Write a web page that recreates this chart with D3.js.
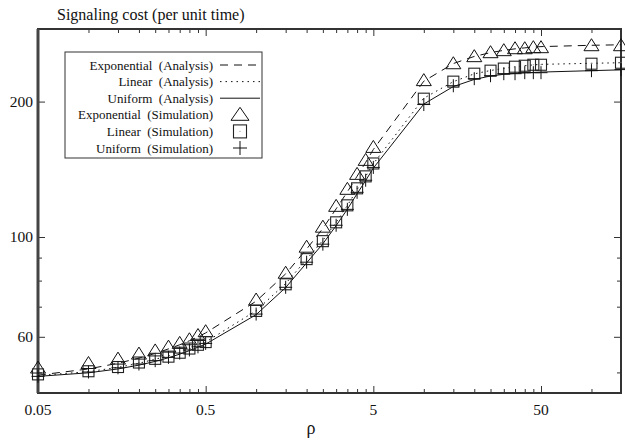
<!DOCTYPE html>
<html>
<head>
<meta charset="utf-8">
<script src="https://cdn.jsdelivr.net/npm/d3@7"></script>
<style>
  body { margin: 0; background: #fff; }
  text { font-family: "Liberation Serif", "DejaVu Serif", serif; fill: #111; white-space: pre; }
</style>
</head>
<body>
<div id="chart"></div>
<script>
// rho values (x) shared by every series
var rho = [0.05, 0.1, 0.15, 0.2, 0.25, 0.3, 0.35, 0.4, 0.45, 0.5,
  1, 1.5, 2, 2.5, 3, 3.5, 4, 4.5, 5,
  10, 15, 20, 25, 30, 35, 40, 45, 50, 100, 150];

// analysis curves
var expAnalysis = [49.3, 50.9, 52.4, 53.8, 55.1, 56.4, 57.6, 58.8, 60.0, 61.2,
  72.0, 82.8, 94.0, 104.5, 115.5, 126.0, 136.5, 146.5, 156.5,
  222.0, 243.0, 252.0, 257.0, 260.0, 262.0, 263.3, 264.3, 265.0, 266.8, 267.5];
var linAnalysis = [49.2, 50.2, 51.3, 52.4, 53.5, 54.4, 55.4, 56.4, 57.4, 58.4,
  68.6, 78.8, 89.2, 98.3, 107.8, 117.5, 127.5, 136.5, 145.5,
  203.5, 221.5, 230.5, 234.5, 237.0, 239.0, 240.3, 241.3, 242.0, 243.3, 244.0];
var uniAnalysis = [49.0, 49.9, 50.9, 51.9, 52.9, 53.9, 54.9, 55.9, 56.9, 57.8,
  67.2, 77.2, 87.6, 96.6, 106.0, 115.3, 124.8, 133.5, 142.3,
  197.5, 216.0, 224.0, 228.0, 230.0, 231.0, 231.7, 232.2, 232.6, 234.3, 235.3];

// simulation points
var expSim = [51.4, 52.6, 53.8, 55.2, 56.1, 57.2, 58.3, 59.4, 60.7, 61.9,
  72.8, 83.5, 95.4, 105.7, 117.6, 128.3, 138.5, 148.8, 159.0,
  223.8, 244.0, 253.0, 258.2, 260.9, 263.5, 263.5, 264.9, 264.9, 267.6, 267.6];
var linSim = [49.5, 50.3, 51.4, 52.6, 53.6, 54.2, 55.3, 56.5, 57.6, 58.4,
  68.5, 78.5, 89.3, 97.9, 107.8, 117.6, 128.3, 136.4, 145.7,
  203.0, 221.5, 230.7, 234.3, 236.8, 239.1, 240.3, 241.5, 241.5, 242.8, 244.0];
var uniSim = [49.0, 50.1, 51.2, 52.2, 53.1, 54.0, 55.2, 56.1, 57.0, 58.0,
  67.4, 77.3, 87.9, 96.4, 106.2, 115.2, 125.7, 133.7, 142.8,
  197.0, 216.9, 224.9, 228.3, 230.7, 230.7, 231.9, 231.9, 231.9, 234.3, 235.6];

// ticks
var xMajor = [0.05, 0.5, 5, 50];
var xMinor = [0.1, 0.15, 0.2, 0.25, 0.3, 0.35, 0.4, 0.45,
  1, 1.5, 2, 2.5, 3, 3.5, 4, 4.5, 10, 15, 20, 25, 30, 35, 40, 45, 100];
var yMajor = [60, 100, 200];
var yMinor = [50, 70, 80, 90];

var legendNames = [
  "Exponential  (Analysis)", "Linear  (Analysis)", "Uniform  (Analysis)",
  "Exponential  (Simulation)", "Linear  (Simulation)", "Uniform  (Simulation)"
];

var W = 625, H = 440;
var padL = 38, padR = 621, padT = 29, padB = 393;

var svg = d3.select("#chart").append("svg")
  .attr("width", W).attr("height", H);

var x = d3.scaleLog().domain([0.05, 150]).range([padL, padR]);
var y = d3.scaleLog().domain([45, 290]).range([padB, padT]);

// ticks via d3 axes, pointing inward, mirrored
function xAxis(g, gen, vals, len) {
  g.call(gen(x).tickValues(vals).tickSize(len).tickFormat(""));
  g.select(".domain").remove();
  g.selectAll("line").attr("stroke", "#333");
}
function yAxis(g, gen, vals, len) {
  g.call(gen(y).tickValues(vals).tickSize(len).tickFormat(""));
  g.select(".domain").remove();
  g.selectAll("line").attr("stroke", "#333");
}
xAxis(svg.append("g").attr("transform", "translate(0," + padB + ")"), d3.axisTop, xMajor, 7);
xAxis(svg.append("g").attr("transform", "translate(0," + padB + ")"), d3.axisTop, xMinor, 4);
xAxis(svg.append("g").attr("transform", "translate(0," + padT + ")"), d3.axisBottom, xMajor, 7);
xAxis(svg.append("g").attr("transform", "translate(0," + padT + ")"), d3.axisBottom, xMinor, 4);
yAxis(svg.append("g").attr("transform", "translate(" + padL + ",0)"), d3.axisRight, yMajor, 7);
yAxis(svg.append("g").attr("transform", "translate(" + padL + ",0)"), d3.axisRight, yMinor, 4);
yAxis(svg.append("g").attr("transform", "translate(" + padR + ",0)"), d3.axisLeft, yMajor, 7);
yAxis(svg.append("g").attr("transform", "translate(" + padR + ",0)"), d3.axisLeft, yMinor, 4);

// frame
svg.append("rect")
  .attr("x", padL).attr("y", padT)
  .attr("width", padR - padL).attr("height", padB - padT)
  .attr("fill", "none").attr("stroke", "#333").attr("stroke-width", 2);
// left axis is drawn heavier in the reference
svg.append("line").attr("x1", padL).attr("x2", padL).attr("y1", padT).attr("y2", padB)
  .attr("stroke", "#444").attr("stroke-width", 3);

// tick labels
svg.selectAll(".xl").data(xMajor).enter().append("text")
  .attr("x", function(d) { return x(d); })
  .attr("y", padB + 22)
  .attr("text-anchor", "middle")
  .attr("font-size", 15.5)
  .text(function(d) { return d; });
svg.selectAll(".yl").data(yMajor).enter().append("text")
  .attr("x", padL - 5)
  .attr("y", function(d) { return y(d) + 5; })
  .attr("text-anchor", "end")
  .attr("font-size", 15.5)
  .text(function(d) { return d; });

svg.append("text").attr("x", 57).attr("y", 20).attr("font-size", 16)
  .text("Signaling cost (per unit time)");
svg.append("text").attr("x", 311).attr("y", 434).attr("text-anchor", "middle")
  .attr("font-size", 18).text("ρ");

// lines
var line = d3.line()
  .x(function(d) { return x(d[0]); })
  .y(function(d) { return y(d[1]); });

var lineStyles = [
  { vals: expAnalysis, dash: "8,6" },
  { vals: linAnalysis, dash: "1.5,4" },
  { vals: uniAnalysis, dash: null }
];
lineStyles.forEach(function(s) {
  svg.append("path")
    .datum(d3.zip(rho, s.vals))
    .attr("d", line)
    .attr("fill", "none")
    .attr("stroke", "#111")
    .attr("stroke-width", 1)
    .attr("stroke-dasharray", s.dash);
});

// markers
function triangle(g, cx, cy, w, h) {
  g.append("path")
    .attr("d", "M" + cx + "," + (cy - h / 2) + "L" + (cx + w / 2) + "," + (cy + h / 2) +
      "L" + (cx - w / 2) + "," + (cy + h / 2) + "Z")
    .attr("fill", "none").attr("stroke", "#111").attr("stroke-width", 1);
}
function square(g, cx, cy, s) {
  g.append("rect").attr("x", cx - s / 2).attr("y", cy - s / 2)
    .attr("width", s).attr("height", s)
    .attr("fill", "none").attr("stroke", "#222").attr("stroke-width", 1.1);
  g.append("rect").attr("x", cx - 0.5).attr("y", cy - 0.5)
    .attr("width", 1).attr("height", 1).attr("fill", "#888");
}
function plus(g, cx, cy, s) {
  g.append("path")
    .attr("d", "M" + (cx - s / 2) + "," + cy + "H" + (cx + s / 2) +
      "M" + cx + "," + (cy - s / 2) + "V" + (cy + s / 2))
    .attr("stroke", "#111").attr("stroke-width", 1);
}

var marks = svg.append("g");
rho.forEach(function(r, i) {
  triangle(marks, x(r), y(expSim[i]), 15, 12);
  square(marks, x(r), y(linSim[i]), 11);
  plus(marks, x(r), y(uniSim[i]), 13);
});

// legend
var lg = svg.append("g");
lg.append("rect").attr("x", 65).attr("y", 52).attr("width", 197).attr("height", 106)
  .attr("fill", "#fff").attr("stroke", "#333").attr("stroke-width", 1);
legendNames.forEach(function(name, i) {
  var cy = 65 + i * 16.6;
  lg.append("text").attr("x", 213).attr("y", cy + 4.5)
    .attr("text-anchor", "end").attr("font-size", 13).text(name);
  if (i < 3) {
    lg.append("line").attr("x1", 220).attr("x2", 260).attr("y1", cy).attr("y2", cy)
      .attr("stroke", "#111").attr("stroke-width", 1)
      .attr("stroke-dasharray", lineStyles[i].dash);
  } else if (i === 3) {
    triangle(lg, 240, cy - 1, 18, 13);
  } else if (i === 4) {
    square(lg, 240, cy, 13);
  } else {
    plus(lg, 240, cy, 14);
  }
});
</script>
</body>
</html>
